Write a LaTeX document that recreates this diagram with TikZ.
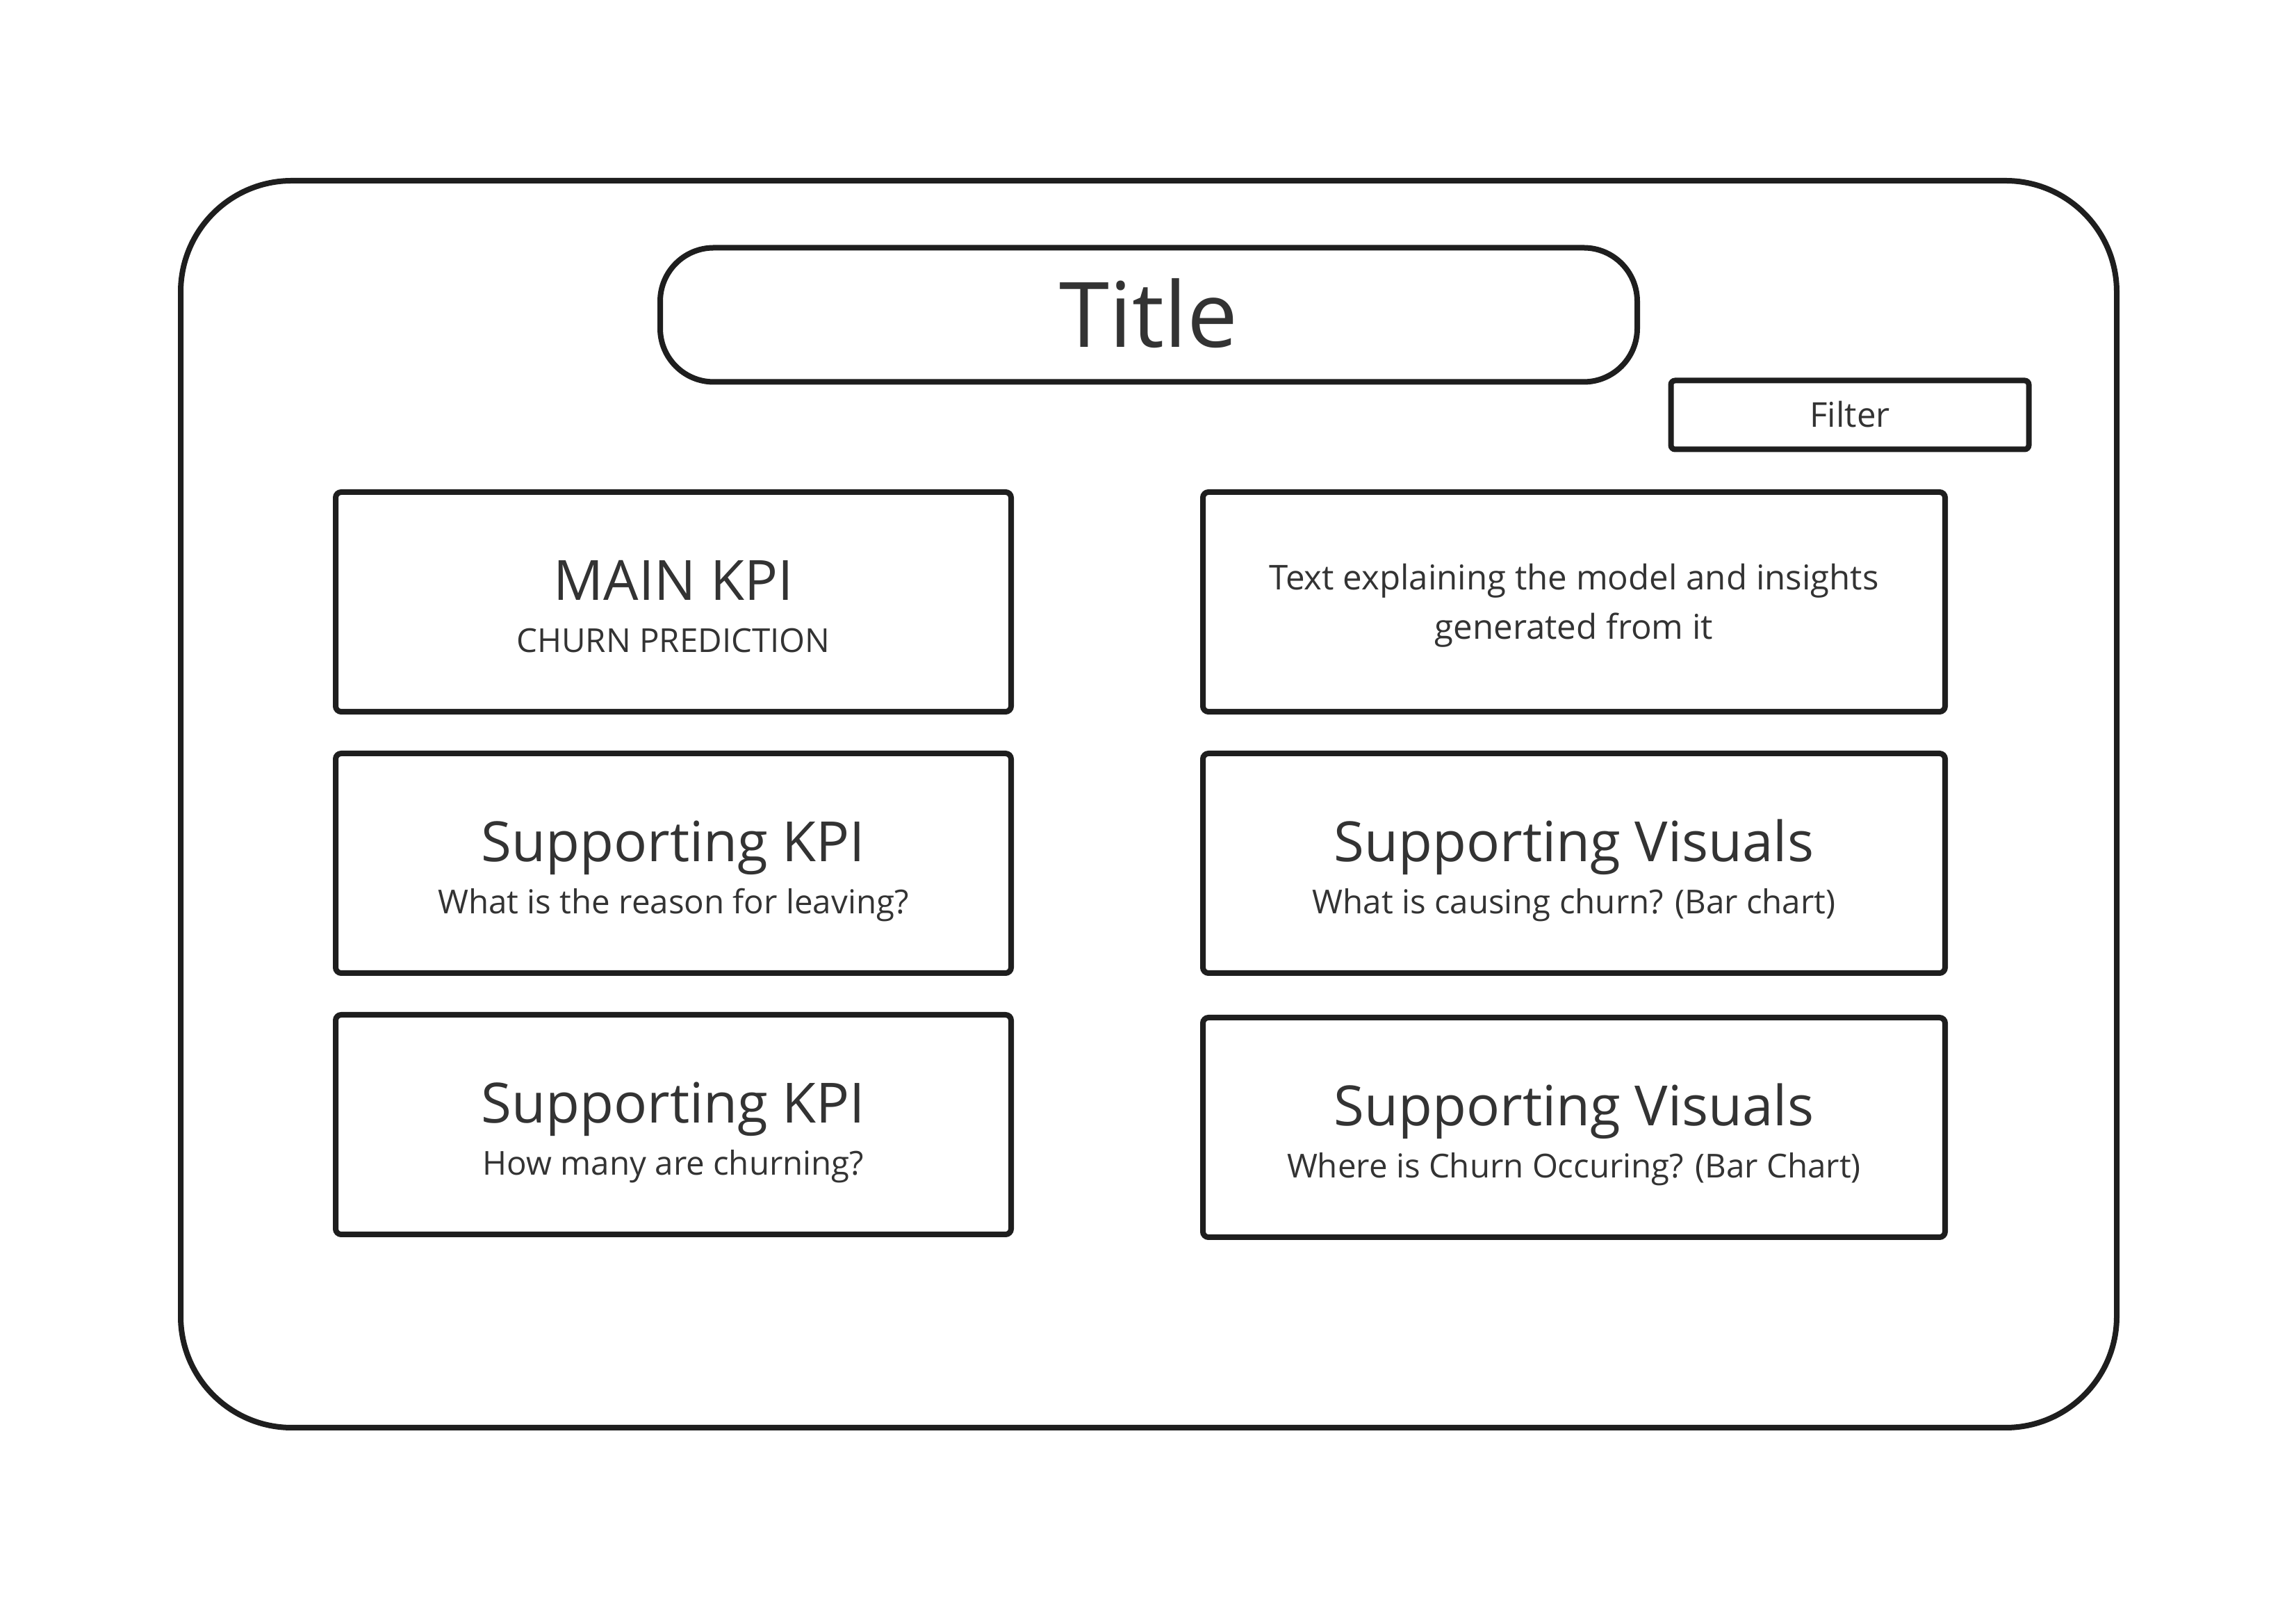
\documentclass[tikz,border=0pt]{standalone}
\usepackage{fontspec}
\setmainfont{Open Sans}
\usepackage{xcolor}
\usetikzlibrary{positioning}
\definecolor{ink}{HTML}{1E1E1E}
\definecolor{textgrey}{HTML}{333333}

\begin{document}
\begin{tikzpicture}
	 \tikzstyle{frame}=[draw=ink,line width=0.08cm]
	 \tikzstyle{panel}=[frame,rectangle,rounded corners=0.08cm,minimum height=3.16cm,inner sep=0pt]
	 \tikzstyle{left panel}=[panel,minimum width=9.72cm]
	 \tikzstyle{right panel}=[panel,minimum width=10.68cm]
	 \tikzstyle{heading}=[anchor=base,inner sep=0pt,text=textgrey,font=\fontsize{22.7}{27}\selectfont]
	 \tikzstyle{caption}=[anchor=base,inner sep=0pt,text=textgrey,font=\fontsize{13.5}{16}\selectfont]
	 \tikzstyle{body}=[anchor=base,inner sep=0pt,text=textgrey,font=\fontsize{14}{17}\selectfont]

	 \useasboundingbox (0,0) rectangle (33.04,23.12);
	 \fill[white] (0,0) rectangle (33.04,23.12);

	 % outer dashboard frame
	 \draw[frame,rounded corners=1.6cm] (2.60,2.58) rectangle (30.46,20.52);

	 % header
	 \node[frame,rounded corners=0.77cm,minimum width=14.06cm,minimum height=1.93cm,inner sep=0pt,
	       text height=0.93cm,text depth=0pt,text=textgrey,font=\fontsize{37}{44}\selectfont] (title) at (16.53,18.59) {Title};
	 \node[frame,rounded corners=0.06cm,minimum width=5.15cm,minimum height=0.99cm,inner sep=0pt,
	       text height=0.35cm,text depth=0pt,text=textgrey,font=\fontsize{14}{17}\selectfont] (filter) at (26.62,17.15) {Filter};

	 % left column
	 \node[left panel] (kpi) at (9.69,14.46) {};
	 \node[left panel] (reason) at (9.69,10.70) {};
	 \node[left panel] (count) at (9.69,6.94) {};

	 % right column
	 \node[right panel] (info) at (22.65,14.46) {};
	 \node[right panel] (causes) at (22.65,10.70) {};
	 \node[right panel] (where) at (22.65,6.90) {};

	 \node[heading] (kpi head) at ([yshift=-1.60cm]kpi.north) {MAIN KPI};
	 \node[caption] (kpi sub) at ([yshift=-2.35cm]kpi.north) {CHURN PREDICTION};
	 \node[heading] (reason head) at ([yshift=-1.60cm]reason.north) {Supporting KPI};
	 \node[caption] (reason sub) at ([yshift=-2.35cm]reason.north) {What is the reason for leaving?};
	 \node[heading] (count head) at ([yshift=-1.60cm]count.north) {Supporting KPI};
	 \node[caption] (count sub) at ([yshift=-2.35cm]count.north) {How many are churning?};

	 \node[body] (info line1) at ([yshift=-1.45cm]info.north) {Text explaining the model and insights};
	 \node[body] (info line2) at ([yshift=-2.16cm]info.north) {generated from it};
	 \node[heading] (causes head) at ([yshift=-1.60cm]causes.north) {Supporting Visuals};
	 \node[caption] (causes sub) at ([yshift=-2.35cm]causes.north) {What is causing churn? (Bar chart)};
	 \node[heading] (where head) at ([yshift=-1.60cm]where.north) {Supporting Visuals};
	 \node[caption] (where sub) at ([yshift=-2.35cm]where.north) {Where is Churn Occuring? (Bar Chart)};
 \end{tikzpicture}
\end{document}
